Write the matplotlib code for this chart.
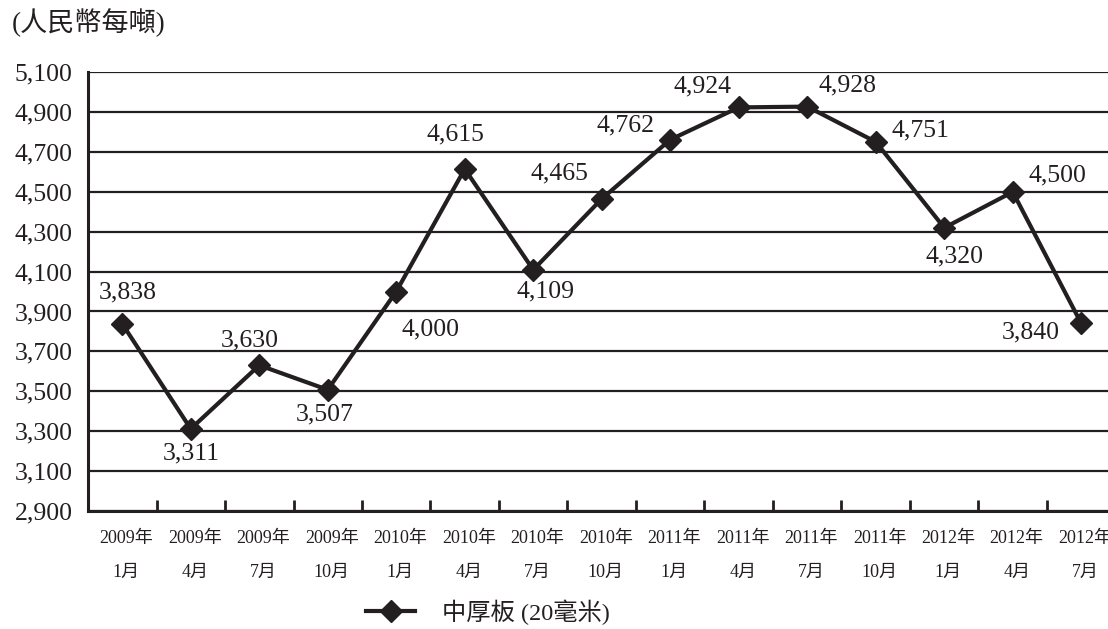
import matplotlib
matplotlib.use('Agg')
import matplotlib.pyplot as plt
from matplotlib.ticker import FixedLocator, FuncFormatter
from matplotlib.transforms import ScaledTranslation

plt.rcParams['font.family'] = ['Liberation Serif', 'Noto Sans CJK TC']

years = ['2009', '2009', '2009', '2009', '2010', '2010', '2010', '2010',
         '2011', '2011', '2011', '2011', '2012', '2012', '2012']
months = ['1', '4', '7', '10', '1', '4', '7', '10',
          '1', '4', '7', '10', '1', '4', '7']
prices = [3838, 3311, 3630, 3507, 4000, 4615, 4109, 4465,
          4762, 4924, 4928, 4751, 4320, 4500, 3840]
# label offsets (pixels) from each point
label_dx = [5, 0, -9, -3, 34, -9, 12, -42, -45, -36, 40, 45, 10, 45, -50]
label_dy = [31, -25, 25, -25, -38, 35, -22, 25, 14, 21, 21, 11, -29, 16, -9]

ink = '#231f20'

fig = plt.figure(figsize=(11.08, 6.29), dpi=100)
ax = fig.add_axes([88 / 1108, 0.188, 1027.5 / 1108, 0.697])

x = list(range(len(prices)))
line, = ax.plot(x, prices, color=ink, lw=3.0, marker='D', markersize=11,
                zorder=3, clip_on=False)

for i, v in enumerate(prices):
    ax.annotate(f'{v:,}', (i, v), xytext=(label_dx[i], label_dy[i]),
                textcoords='offset pixels', ha='center', va='center',
                fontsize=18.5, color=ink, zorder=4)

ax.set_xlim(-0.5, len(prices) - 0.5)
ax.set_ylim(2900, 5100)
ax.set_yticks(range(2900, 5101, 200))
ax.yaxis.set_major_formatter(FuncFormatter(lambda v, p: f'{int(v):,}'))
ax.tick_params(axis='y', length=0, labelsize=18.5, pad=11, labelcolor=ink)
ax.grid(axis='y', color=ink, lw=1.6)
ax.set_axisbelow(True)

# ticks between categories, labels at category centres
ax.xaxis.set_major_locator(FixedLocator([i + 0.5 for i in range(len(prices) - 1)]))
ax.xaxis.set_major_formatter(FuncFormatter(lambda v, p: ''))
ax.xaxis.set_minor_locator(FixedLocator(x))
ax.set_xticklabels([f'{y}年\n{m}月' for y, m in zip(years, months)], minor=True)
ax.tick_params(axis='x', which='major', direction='in', length=8, width=2, color=ink)
ax.tick_params(axis='x', which='minor', length=0, labelsize=13, pad=14, labelcolor=ink)
shift = ScaledTranslation(4 / 100, 0, fig.dpi_scale_trans)
for lab in ax.get_xticklabels(minor=True):
    lab.set_linespacing(2.3)
    lab.set_transform(lab.get_transform() + shift)

for side in ['top', 'right']:
    ax.spines[side].set_visible(False)
for side in ['left', 'bottom']:
    ax.spines[side].set_linewidth(2.2)
    ax.spines[side].set_color(ink)

fig.text(12 / 1108, 1 - 23 / 629, '(人民幣每噸)', fontsize=19.5, va='center', ha='left', color=ink)

fig.legend([line], ['中厚板 (20毫米)'], loc='center', bbox_to_anchor=(488 / 1108, 1 - 612 / 629),
           frameon=False, fontsize=17.5, handlelength=2.0, handletextpad=1.1,
           labelcolor=ink)

fig.savefig('out.png', dpi=100)
